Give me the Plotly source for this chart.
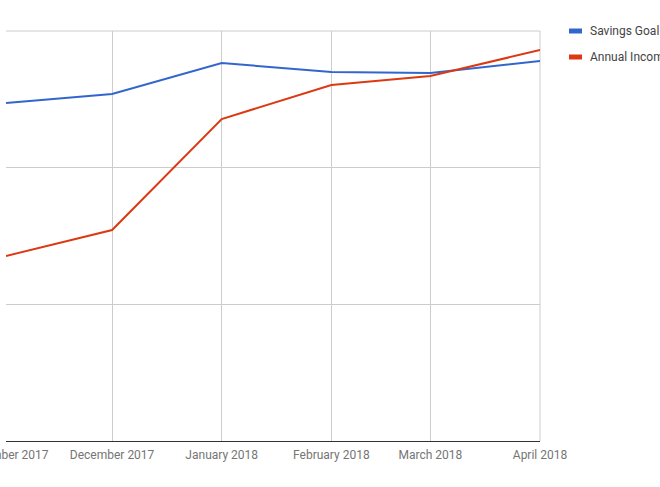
import plotly.graph_objects as go

months = ["2017-11-01", "2017-12-01", "2018-01-01", "2018-02-01", "2018-03-01", "2018-04-01"]
savings_goal = [24730, 25390, 27660, 27000, 26930, 27800]
annual_income = [13540, 15440, 23560, 26050, 26710, 28610]
series_names = ["Savings Goal", "Annual Income"]
colors = ["#3366CC", "#DC3912"]

fig = go.Figure()
for name, vals, col in zip(series_names, [savings_goal, annual_income], colors):
    fig.add_trace(go.Scatter(x=months, y=vals, mode="lines", name=name,
                             line=dict(color=col, width=2), showlegend=False))

# top and right frame gridlines
fig.add_shape(type="line", xref="paper", yref="paper", x0=0, x1=1, y0=1, y1=1,
              line=dict(color="#cccccc", width=1), layer="below")
fig.add_shape(type="line", xref="paper", yref="paper", x0=1, x1=1, y0=0, y1=1,
              line=dict(color="#cccccc", width=1), layer="below")

# custom Google-style legend
for i, (name, col) in enumerate(zip(series_names, colors)):
    y = 1.0 - i * 26 / 410
    fig.add_shape(type="line", xref="paper", yref="paper",
                  x0=1 + 29 / 534, x1=1 + 42 / 534, y0=y, y1=y,
                  line=dict(color=col, width=5))
    fig.add_annotation(xref="paper", yref="paper", x=1 + 48 / 534, y=y,
                       text=name, showarrow=False, xanchor="left", yanchor="middle",
                       font=dict(family="Roboto", size=12, color="#444444"))

fig.update_layout(
    width=660, height=487,
    margin=dict(l=6, r=120, t=31, b=46, autoexpand=False),
    paper_bgcolor="white", plot_bgcolor="white",
    font=dict(family="Roboto", size=12, color="#757575"),
    xaxis=dict(type="date", range=["2017-11-01", "2018-04-01"],
               tickvals=months, tickformat="%B %Y", ticklabeloverflow="allow",
               ticklabelstandoff=3,
               showgrid=True, gridcolor="#cccccc", gridwidth=1,
               showline=True, linecolor="#333333", linewidth=1,
               ticks="", zeroline=False, tickfont=dict(color="#757575", size=12)),
    yaxis=dict(range=[0, 30000], dtick=10000, showticklabels=False,
               showgrid=True, gridcolor="#cccccc", zeroline=False, ticks=""),
)

fig.write_html("out.html", config={"displayModeBar": False},
               post_script="document.body.style.margin='0';document.body.style.overflow='hidden';")
